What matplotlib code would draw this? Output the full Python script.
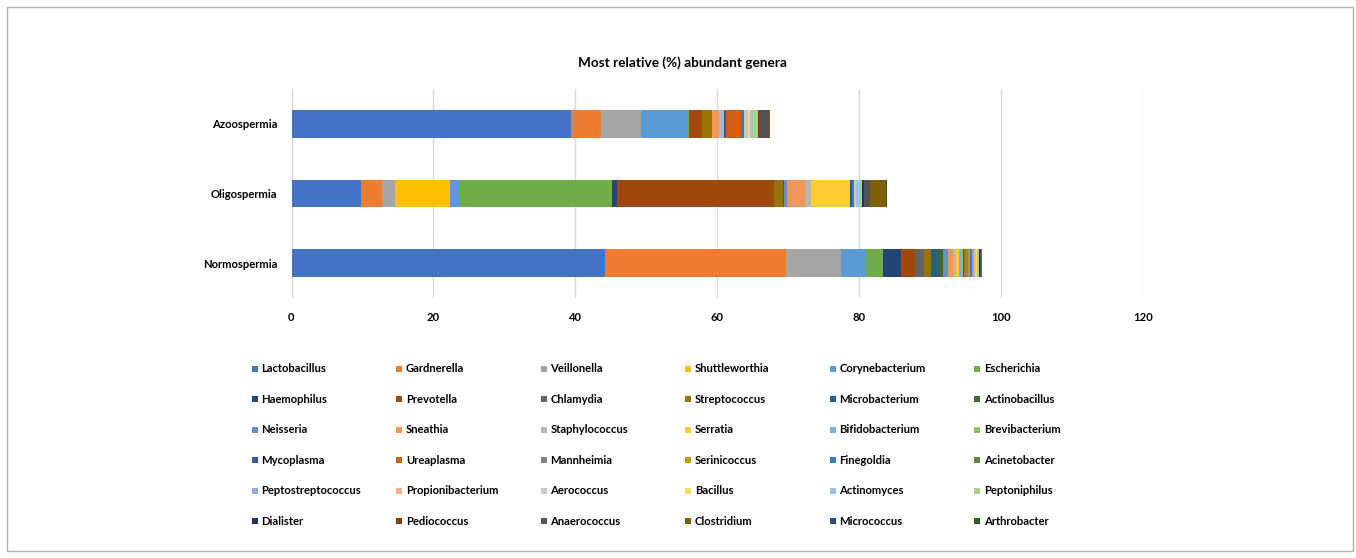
import numpy as np
import matplotlib
matplotlib.use("Agg")
import matplotlib.pyplot as plt
from matplotlib.patches import Rectangle

# ─── Data ─────────────────────────────────────────────────────────────────────
groups = ["Normospermia", "Oligospermia", "Azoospermia"]

genera = [
    "Lactobacillus", "Gardnerella", "Veillonella", "Shuttleworthia", "Corynebacterium", "Escherichia",
    "Haemophilus", "Prevotella", "Chlamydia", "Streptococcus", "Microbacterium", "Actinobacillus",
    "Neisseria", "Sneathia", "Staphylococcus", "Serratia", "Bifidobacterium", "Brevibacterium",
    "Mycoplasma", "Ureaplasma", "Mannheimia", "Serinicoccus", "Finegoldia", "Acinetobacter",
    "Peptostreptococcus", "Propionibacterium", "Aerococcus", "Bacillus", "Actinomyces", "Peptoniphilus",
    "Dialister", "Pediococcus", "Anaerococcus", "Clostridium", "Micrococcus", "Arthrobacter",
]

# relative abundance (%) per genus, same order as `genera`
normo = [44.2, 25.5, 7.8, 0.0, 3.5, 2.4,
         2.5, 2.0, 1.3, 0.95, 0.95, 0.7,
         0.8, 0.7, 0.4, 0.4, 0.3, 0.25,
         0.2, 0.3, 0.25, 0.2, 0.15, 0.25,
         0.15, 0.2, 0.15, 0.2, 0.1, 0.1,
         0.1, 0.05, 0.1, 0.15, 0.05, 0.05]
oligo = [9.8, 2.9, 1.9, 7.7, 1.5, 21.4,
         0.7, 22.1, 0.0, 1.3, 0.2, 0.0,
         0.3, 2.6, 0.85, 5.5, 0.0, 0.0,
         0.25, 0.0, 0.0, 0.0, 0.3, 0.0,
         0.0, 0.0, 0.3, 0.0, 0.5, 0.3,
         0.3, 0.0, 0.9, 2.2, 0.0, 0.15]
azoo = [39.4, 4.2, 5.7, 0.0, 6.6, 0.2,
        0.0, 1.8, 0.0, 1.4, 0.0, 0.0,
        0.0, 0.9, 0.75, 0.0, 0.0, 0.0,
        0.3, 2.1, 0.0, 0.0, 0.5, 0.0,
        0.0, 0.0, 0.5, 0.25, 0.25, 0.85,
        0.0, 0.2, 1.4, 0.15, 0.0, 0.0]

x_ticks = [0, 20, 40, 60, 80, 100, 120]

# ─── Excel office palette ─────────────────────────────────────────────────────
colors = [
    "#4472C4", "#ED7D31", "#A5A5A5", "#FFC000", "#5B9BD5", "#70AD47",
    "#264478", "#9E480E", "#636363", "#997300", "#255E91", "#43682B",
    "#698ED0", "#F1975A", "#B7B7B7", "#FFCD33", "#7CAFDD", "#8CC168",
    "#335AA1", "#D26012", "#848484", "#CC9A00", "#327DC2", "#5A8A39",
    "#8FAADC", "#F4B183", "#C9C9C9", "#FFD966", "#9DC3E6", "#A9D18E",
    "#203864", "#843C0C", "#525252", "#7F6000", "#1F4E79", "#385723",
]

FONT = ["Lato", "DejaVu Sans"]
FS = 8.1
TEXT = "#000000"
GRID = "#D9D9D9"

W, H = 1356, 558
fig = plt.figure(figsize=(W / 100, H / 100), dpi=100, facecolor="white")
ax = fig.add_axes([291.5 / W, 1 - 298 / H, (1142.7 - 291.5) / W, (298 - 89) / H])

values = np.array([normo, oligo, azoo])   # rows follow `groups`
ypos = np.arange(len(groups))
left = np.zeros(len(groups))
for j, name in enumerate(genera):
    ax.barh(ypos, values[:, j], left=left, height=0.4,
            color=colors[j], linewidth=0, zorder=3, label=name)
    left += values[:, j]

ax.set_xlim(0, 120)
ax.set_ylim(-0.5, 2.5)
ax.set_xticks(x_ticks)
ax.set_xticklabels([str(v) for v in x_ticks], family=FONT, fontsize=FS,
                   fontweight="bold", color=TEXT)
ax.set_yticks(ypos)
ax.set_yticklabels(groups, family=FONT, fontsize=FS, fontweight="bold", color=TEXT)
ax.tick_params(axis="both", length=0)
ax.tick_params(axis="x", pad=10)
ax.tick_params(axis="y", pad=10)
for s in ax.spines.values():
    s.set_visible(False)
ax.grid(axis="x", color=GRID, linewidth=1)
ax.set_axisbelow(True)

fig.text(682 / W, 1 - 63 / H, "Most relative (%) abundant genera",
         ha="center", va="center", family=FONT, fontsize=9.8,
         fontweight="bold", color=TEXT)

# ─── Legend (row-major grid, like Excel) ──────────────────────────────────────
x0, dx = 251.5, 144.5
y0, dy = 369, 30.45
box = 6
for i, name in enumerate(genera):
    r, c = divmod(i, 6)
    x = x0 + c * dx
    y = y0 + r * dy
    fig.patches.append(Rectangle((x / W, 1 - (y + box / 2) / H), box / W, box / H,
                                 transform=fig.transFigure, color=colors[i],
                                 linewidth=0))
    fig.text((x + 10) / W, 1 - y / H, name, ha="left", va="center",
             family=FONT, fontsize=FS, fontweight="bold", color=TEXT)

# chart frame
fig.patches.append(Rectangle((7 / W, 7 / H), (1353 - 7) / W, (551 - 7) / H,
                             transform=fig.transFigure, fill=False,
                             edgecolor="#B0B0B0", linewidth=1))

fig.savefig("out.png", dpi=100, facecolor="white")
